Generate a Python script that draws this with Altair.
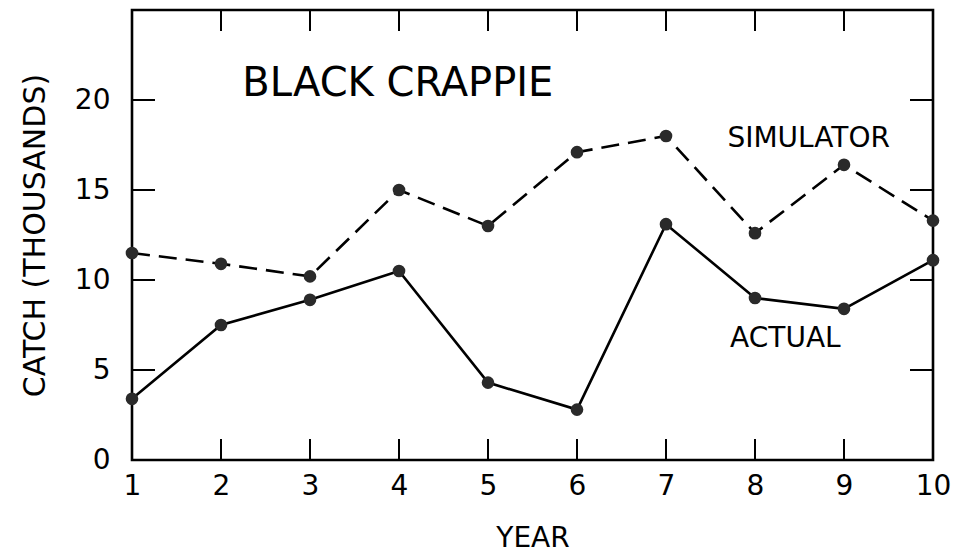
import altair as alt
import pandas as pd

years = [1, 2, 3, 4, 5, 6, 7, 8, 9, 10]
simulator = [11.5, 10.9, 10.2, 15.0, 13.0, 17.1, 18.0, 12.6, 16.4, 13.3]
actual = [3.4, 7.5, 8.9, 10.5, 4.3, 2.8, 13.1, 9.0, 8.4, 11.1]

x_ticks = [2, 3, 4, 5, 6, 7, 8, 9]
y_ticks = [5, 10, 15, 20]
x_labels = [1, 2, 3, 4, 5, 6, 7, 8, 9, 10]
y_labels = [0, 5, 10, 15, 20]

label_text = ["BLACK CRAPPIE", "SIMULATOR", "ACTUAL"]
label_x = [2.24, 7.69, 7.72]
label_y = [20.2, 17.4, 6.3]
label_size = [40, 28, 28]

FONT = "DejaVu Sans"
W, H = 801, 450

df = pd.DataFrame({
    "year": years * 2,
    "catch": simulator + actual,
    "series": ["SIMULATOR"] * 10 + ["ACTUAL"] * 10,
})
sim_df = df[df.series == "SIMULATOR"]
act_df = df[df.series == "ACTUAL"]

xs = alt.Scale(domain=[1, 10], nice=False, zero=False)
ys = alt.Scale(domain=[0, 25], nice=False, zero=True)

x_axis = alt.Axis(values=x_labels, format="d", ticks=False, domain=False, grid=False,
                  labelFont=FONT, labelFontSize=28, labelColor="black",
                  labelPadding=12, title="YEAR", titleFont=FONT,
                  titleFontSize=28, titleFontWeight="normal", titleColor="black",
                  titlePadding=24, labelFlush=False)
y_axis = alt.Axis(values=y_labels, format="d", ticks=False, domain=False, grid=False,
                  labelFont=FONT, labelFontSize=28, labelColor="black",
                  labelPadding=22, title="CATCH (THOUSANDS)", titleFont=FONT,
                  titleFontSize=30, titleFontWeight="normal", titleColor="black",
                  titlePadding=24, labelFlush=False)

base_sim = alt.Chart(sim_df).encode(
    x=alt.X("year:Q", scale=xs, axis=x_axis),
    y=alt.Y("catch:Q", scale=ys, axis=y_axis),
)
sim_line = base_sim.mark_line(color="black", strokeWidth=2.6, strokeDash=[18, 9])
sim_pts = base_sim.mark_point(filled=True, color="#2a2a2a", size=160, opacity=1)

base_act = alt.Chart(act_df).encode(
    x=alt.X("year:Q", scale=xs),
    y=alt.Y("catch:Q", scale=ys),
)
act_line = base_act.mark_line(color="black", strokeWidth=2.6)
act_pts = base_act.mark_point(filled=True, color="#2a2a2a", size=160, opacity=1)

xt = pd.DataFrame({"t": x_ticks})
yt = pd.DataFrame({"t": y_ticks})
bottom_ticks = alt.Chart(xt).mark_rule(color="black", strokeWidth=2).encode(
    x=alt.X("t:Q", scale=xs), y=alt.value(H), y2=alt.value(H - 21))
top_ticks = alt.Chart(xt).mark_rule(color="black", strokeWidth=2).encode(
    x=alt.X("t:Q", scale=xs), y=alt.value(0), y2=alt.value(21))
left_ticks = alt.Chart(yt).mark_rule(color="black", strokeWidth=2).encode(
    y=alt.Y("t:Q", scale=ys), x=alt.value(0), x2=alt.value(23))
right_ticks = alt.Chart(yt).mark_rule(color="black", strokeWidth=2).encode(
    y=alt.Y("t:Q", scale=ys), x=alt.value(W), x2=alt.value(W - 23))

lab_df = pd.DataFrame({"text": label_text, "x": label_x, "y": label_y, "s": label_size})
labels = alt.Chart(lab_df).mark_text(
    align="left", baseline="alphabetic", font=FONT, color="black"
).encode(
    x=alt.X("x:Q", scale=xs), y=alt.Y("y:Q", scale=ys), text="text:N",
    size=alt.Size("s:Q", scale=None, legend=None),
)

chart = alt.layer(
    bottom_ticks, top_ticks, left_ticks, right_ticks,
    sim_line, act_line, sim_pts, act_pts, labels,
).properties(
    width=W, height=H,
    autosize=alt.AutoSizeParams(type="none"),
    padding={"left": 124, "top": 2, "right": 24, "bottom": 92},
    background="white",
).configure_view(stroke="black", strokeWidth=2.6)

chart.save("out.html", embed_options={"renderer": "svg", "actions": False})
